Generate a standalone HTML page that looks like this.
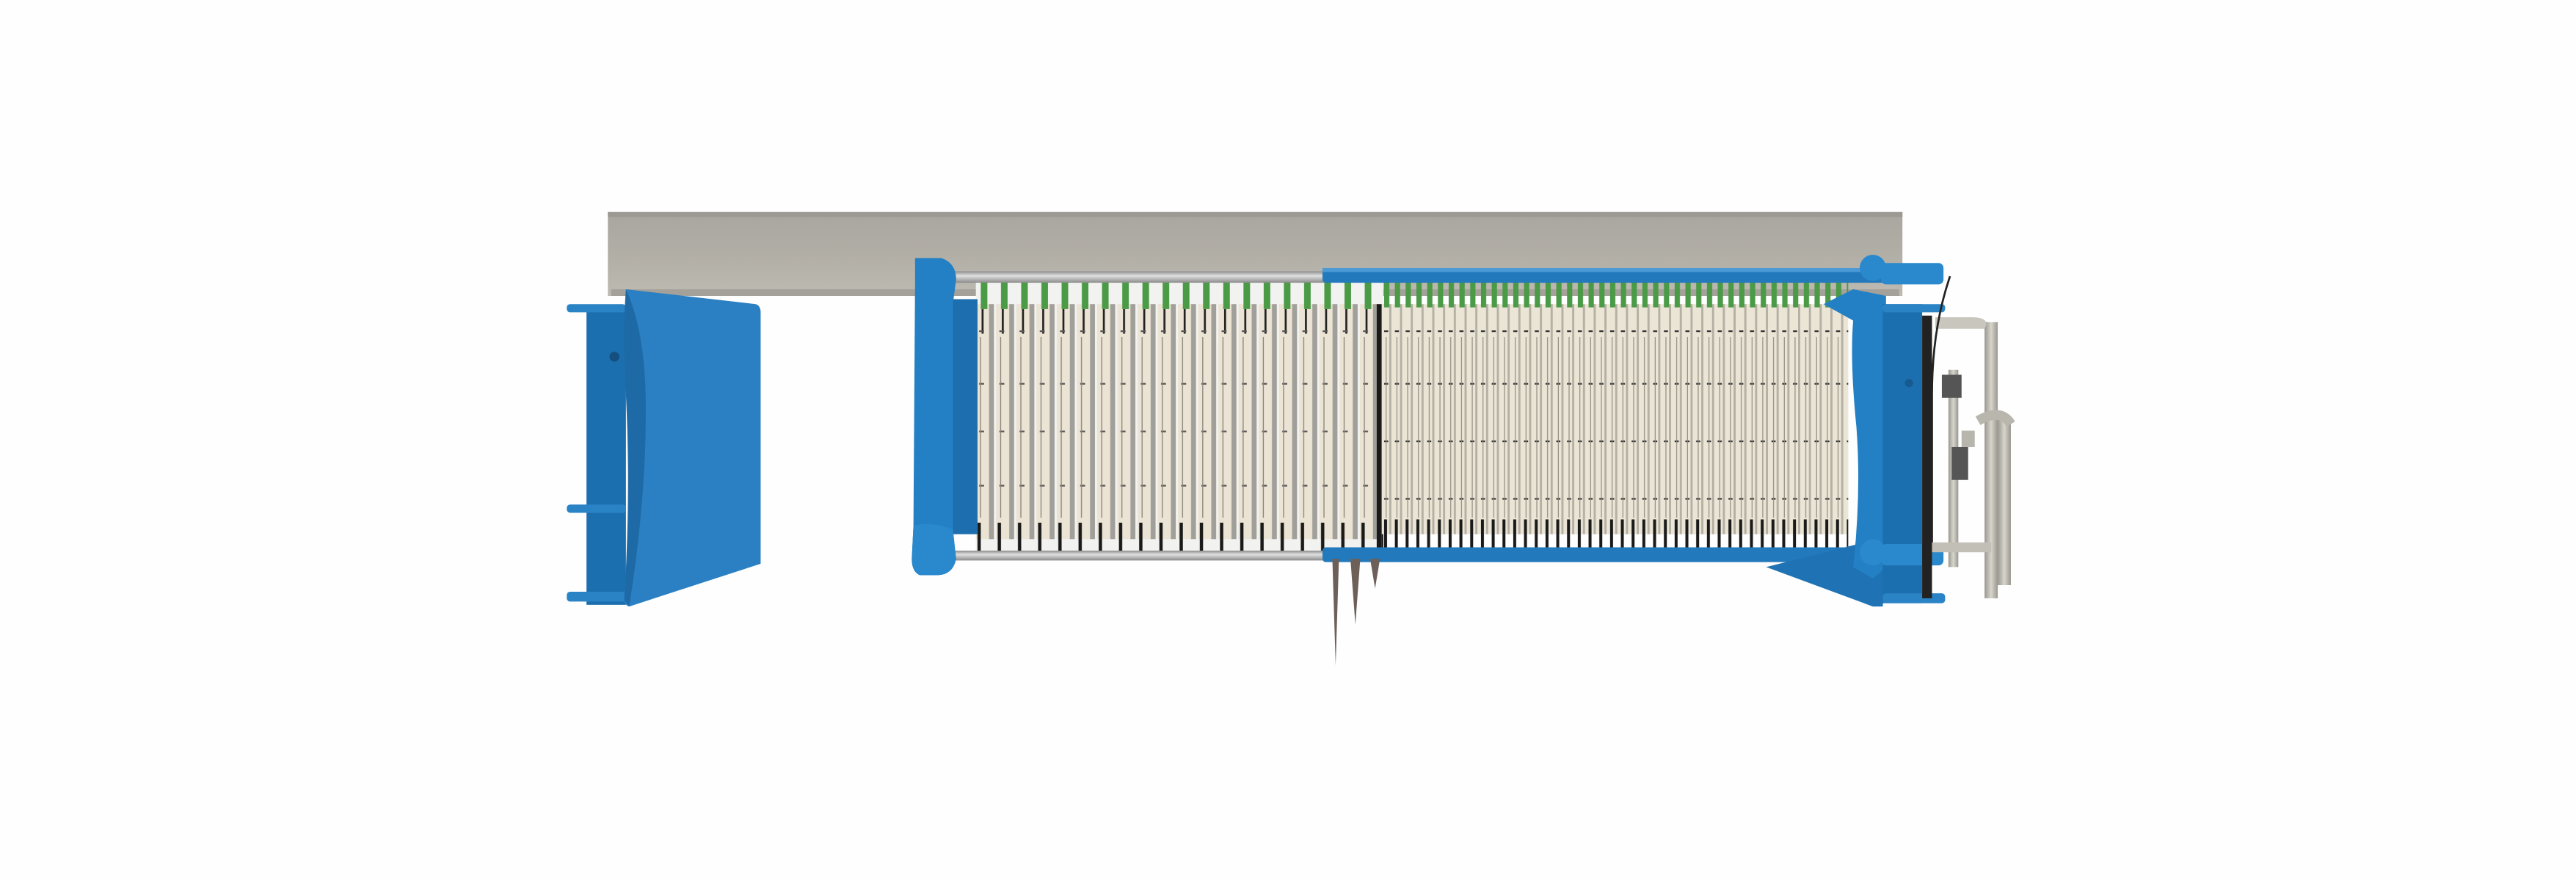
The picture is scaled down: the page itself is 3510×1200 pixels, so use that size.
<!DOCTYPE html>
<html><head><meta charset="utf-8"><style>
html,body{margin:0;padding:0;background:#fefefe;}
svg{display:block;}
</style></head><body>
<svg width="3510" height="1200" viewBox="0 0 1568 536" xmlns="http://www.w3.org/2000/svg">
<defs>
<linearGradient id="beam" x1="0" y1="0" x2="0" y2="1">
<stop offset="0" stop-color="#a9a69f"/><stop offset="0.5" stop-color="#b1aea6"/><stop offset="1" stop-color="#bdbab2"/>
</linearGradient>
<linearGradient id="rod" x1="0" y1="0" x2="0" y2="1">
<stop offset="0" stop-color="#8d8d8d"/><stop offset="0.4" stop-color="#e0e0e0"/><stop offset="1" stop-color="#8a8a8a"/>
</linearGradient>
<linearGradient id="pipe" x1="0" y1="0" x2="1" y2="0">
<stop offset="0" stop-color="#9a978f"/><stop offset="0.5" stop-color="#d8d5cd"/><stop offset="1" stop-color="#9a978f"/>
</linearGradient>
<pattern id="lp" x="594" y="0" width="12.3" height="536" patternUnits="userSpaceOnUse">
<rect x="0" y="0" width="12.3" height="536" fill="#f2f2f0"/>
<rect x="0" y="185" width="8" height="143" fill="#ebe3d3"/>
<rect x="8" y="185" width="3" height="143" fill="#a19f9a"/>
<rect x="3.5" y="188" width="1.2" height="15" fill="#222"/>
<rect x="2" y="201" width="3" height="1" fill="#555"/>
<rect x="2" y="233" width="3" height="1" fill="#555"/>
<rect x="2" y="262" width="3" height="1" fill="#555"/>
<rect x="2" y="295" width="3" height="1" fill="#555"/>
<rect x="2.5" y="205" width="0.6" height="110" fill="#8a857a"/>
<rect x="3" y="168" width="4" height="20" fill="#4a9a46"/>
<rect x="1" y="318" width="2" height="18" fill="#1a1a1a"/>
</pattern>
<pattern id="dp" x="841" y="0" width="6.55" height="536" patternUnits="userSpaceOnUse">
<rect x="0" y="185" width="6.55" height="140" fill="#ebe5d6"/>
<rect x="4.6" y="185" width="1.3" height="140" fill="#b5b0a4"/>
<rect x="1.5" y="201" width="2.5" height="1" fill="#333"/>
<rect x="1.5" y="233" width="2.5" height="1" fill="#333"/>
<rect x="1.5" y="268" width="2.5" height="1" fill="#333"/>
<rect x="1.5" y="303" width="2.5" height="1" fill="#333"/>
<rect x="2.5" y="205" width="0.5" height="110" fill="#8a857a"/>
<rect x="1.5" y="170" width="3.2" height="17" fill="#4a9a46"/>
<rect x="1.5" y="316" width="1.8" height="20" fill="#1a1a1a"/>
</pattern>
</defs>

<!-- beam -->
<rect x="370" y="129" width="788" height="51" fill="url(#beam)"/>
<rect x="370" y="129" width="788" height="3" fill="#9c9992"/>
<rect x="372" y="176" width="784" height="4" fill="#a4a19a"/>

<!-- left support -->
<rect x="357" y="186" width="24" height="182" fill="#1c6fae"/>
<rect x="345" y="185" width="36" height="5" rx="2" fill="#2a83c5"/>
<rect x="345" y="307" width="36" height="5" rx="2" fill="#2a83c5"/>
<rect x="345" y="360" width="36" height="6" rx="2" fill="#2a83c5"/>
<circle cx="374" cy="217" r="3" fill="#144f80"/>
<path d="M381 176 L460 185 Q463 186 463 190 L463 343 L383 369 Q379 368 380 360 Q393 300 390 240 Q388 200 381 176Z" fill="#2a80c2"/>
<path d="M381 176 Q392 200 393 240 Q394 300 383 369 L380 365 Q384 300 381 240 Q379 200 381 176Z" fill="#1d6aa6"/>

<!-- plates -->
<rect x="594" y="168" width="248" height="170" fill="url(#lp)"/>
<rect x="841" y="168" width="284" height="170" fill="url(#dp)"/>
<rect x="838" y="185" width="3" height="150" fill="#1a1a1a"/>

<!-- rods -->
<rect x="578" y="165" width="230" height="7" fill="url(#rod)"/>
<rect x="805" y="163" width="376" height="9" rx="2" fill="#2279bb"/>
<rect x="805" y="163" width="376" height="2.5" fill="#4b9ad6"/>
<rect x="578" y="335" width="230" height="6" fill="url(#rod)"/>
<rect x="805" y="333" width="345" height="9" rx="2" fill="#2279bb"/>

<!-- needles -->
<path d="M811 340 L813 405 L815 340Z" fill="#6d6058"/>
<path d="M822 340 L825 380 L828 340Z" fill="#6d6058"/>
<path d="M834 340 L837 358 L840 340Z" fill="#6d6058"/>

<!-- left head -->
<path d="M557 157 L573 157 Q582 160 582 170 L580 185 Q590 195 590 215 L590 300 Q586 318 580 322 L582 340 Q580 350 570 350 L560 350 Q555 348 555 340 L556 320 L557 170Z" fill="#2480c4"/>
<rect x="580" y="182" width="15" height="143" fill="#1c6eae"/>
<path d="M556 320 Q566 317 580 322 L582 340 Q580 350 570 350 L560 350 Q555 348 555 340Z" fill="#2a88cc"/>

<!-- right head -->
<path d="M1075 345 L1135 330 L1148 340 L1146 369 L1140 369Z" fill="#1f73b4"/>
<path d="M1110 185 L1128 176 L1148 180 L1148 345 L1140 352 L1128 345 Q1133 300 1130 260 Q1126 220 1128 195Z" fill="#2480c4"/>
<rect x="1146" y="185" width="24" height="182" fill="#1c6fae"/>
<rect x="1146" y="185" width="38" height="5" rx="2" fill="#2a83c5"/>
<rect x="1146" y="361" width="38" height="6" rx="2" fill="#2a83c5"/>
<circle cx="1140" cy="163" r="8" fill="#2a88cc"/>
<circle cx="1140" cy="336" r="8" fill="#2a88cc"/>
<rect x="1145" y="160" width="38" height="13" rx="3" fill="#2a88cc"/>
<rect x="1145" y="331" width="38" height="13" rx="3" fill="#2a88cc"/>
<circle cx="1162" cy="233" r="2.5" fill="#165a90"/>

<!-- pipes & valves -->
<rect x="1170" y="192" width="6" height="172" fill="#222"/>
<rect x="1208" y="196" width="8" height="168" fill="url(#pipe)"/>
<path d="M1208 200 Q1212 193 1200 193 L1178 193 L1178 200Z" fill="#c9c6be"/>
<rect x="1216" y="254" width="8" height="102" fill="url(#pipe)"/>
<path d="M1204 256 Q1218 248 1224 258" fill="none" stroke="#b9b6ae" stroke-width="6"/>
<rect x="1186" y="225" width="6" height="120" fill="url(#pipe)"/>
<rect x="1176" y="330" width="36" height="6" fill="#c2bfb7"/>
<rect x="1182" y="228" width="12" height="14" fill="#555"/>
<rect x="1188" y="272" width="10" height="20" fill="#555"/>
<rect x="1194" y="262" width="8" height="10" fill="#b8b5ad"/>
<path d="M1187 168 Q1176 200 1176 240 L1176 330" fill="none" stroke="#222" stroke-width="1.2"/>
</svg>
</body></html>
